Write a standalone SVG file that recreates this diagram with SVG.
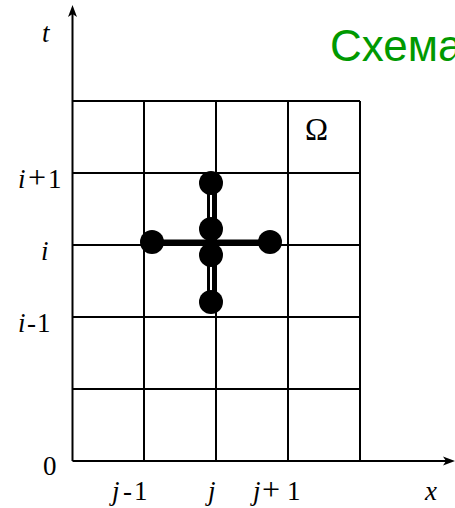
<svg xmlns="http://www.w3.org/2000/svg" width="455" height="508" viewBox="0 0 455 508">
<style>
.g{stroke:#000;stroke-width:2;fill:none}
.lbl{font-family:"Liberation Serif","Times New Roman",serif;font-size:27px;fill:#000}
.it{font-style:italic}
.pl{font-size:32px}
.dot{fill:#000}
</style>
<rect width="455" height="508" fill="#fff"/>
<g id="title"><text x="330" y="61" font-family="Liberation Sans,Arial,sans-serif" font-size="44" fill="#009900">Схема</text></g>
<g id="grid" class="g">
<line x1="72.5" y1="101" x2="360" y2="101"/>
<line x1="72.5" y1="173" x2="360" y2="173"/>
<line x1="72.5" y1="245" x2="360" y2="245"/>
<line x1="72.5" y1="317" x2="360" y2="317"/>
<line x1="72.5" y1="389" x2="360" y2="389"/>
<line x1="144" y1="101" x2="144" y2="461"/>
<line x1="216" y1="101" x2="216" y2="461"/>
<line x1="288" y1="101" x2="288" y2="461"/>
<line x1="360" y1="101" x2="360" y2="461"/>
</g>
<g id="axes">
<line class="g" x1="72.5" y1="461" x2="72.5" y2="12"/>
<line class="g" x1="72.5" y1="461" x2="446" y2="461"/>
<path d="M72.5 5 L77 17 L72.5 14 L68 17 Z" fill="#000"/>
<path d="M455 461 L443 456.5 L446 461 L443 465.5 Z" fill="#000"/>
</g>
<g id="connectors">
<line x1="152" y1="242" x2="270" y2="242" stroke="#000" stroke-width="5"/>
<line x1="208.5" y1="183" x2="208.5" y2="302" stroke="#000" stroke-width="3"/>
<line x1="213.5" y1="183" x2="213.5" y2="302" stroke="#000" stroke-width="3"/>
</g>
<g id="n_top"><circle class="dot" cx="211" cy="183" r="12"/></g>
<g id="n_up"><circle class="dot" cx="211" cy="229" r="12"/></g>
<g id="n_down"><circle class="dot" cx="211" cy="255" r="12"/></g>
<g id="n_bottom"><circle class="dot" cx="211" cy="302" r="12"/></g>
<g id="n_left"><circle class="dot" cx="152" cy="242" r="12"/></g>
<g id="n_right"><circle class="dot" cx="270" cy="242" r="12"/></g>
<g id="labels" class="lbl">
<text x="42" y="42" class="it">t</text>
<text y="188"><tspan x="18" class="it">i</tspan><tspan x="28" class="pl">+</tspan><tspan x="48">1</tspan></text>
<text x="41" y="260" class="it">i</text>
<text y="332"><tspan x="18" class="it">i</tspan><tspan x="27">-</tspan><tspan x="37">1</tspan></text>
<text x="43" y="475">0</text>
<text y="500"><tspan x="112" class="it">j</tspan><tspan x="123">-</tspan><tspan x="134">1</tspan></text>
<text x="208" y="500" class="it">j</text>
<text y="500"><tspan x="253" class="it">j</tspan><tspan x="262" class="pl">+</tspan><tspan x="287">1</tspan></text>
<text x="425" y="500" class="it">x</text>
<text x="305" y="140" font-size="31">Ω</text>
</g>
</svg>
